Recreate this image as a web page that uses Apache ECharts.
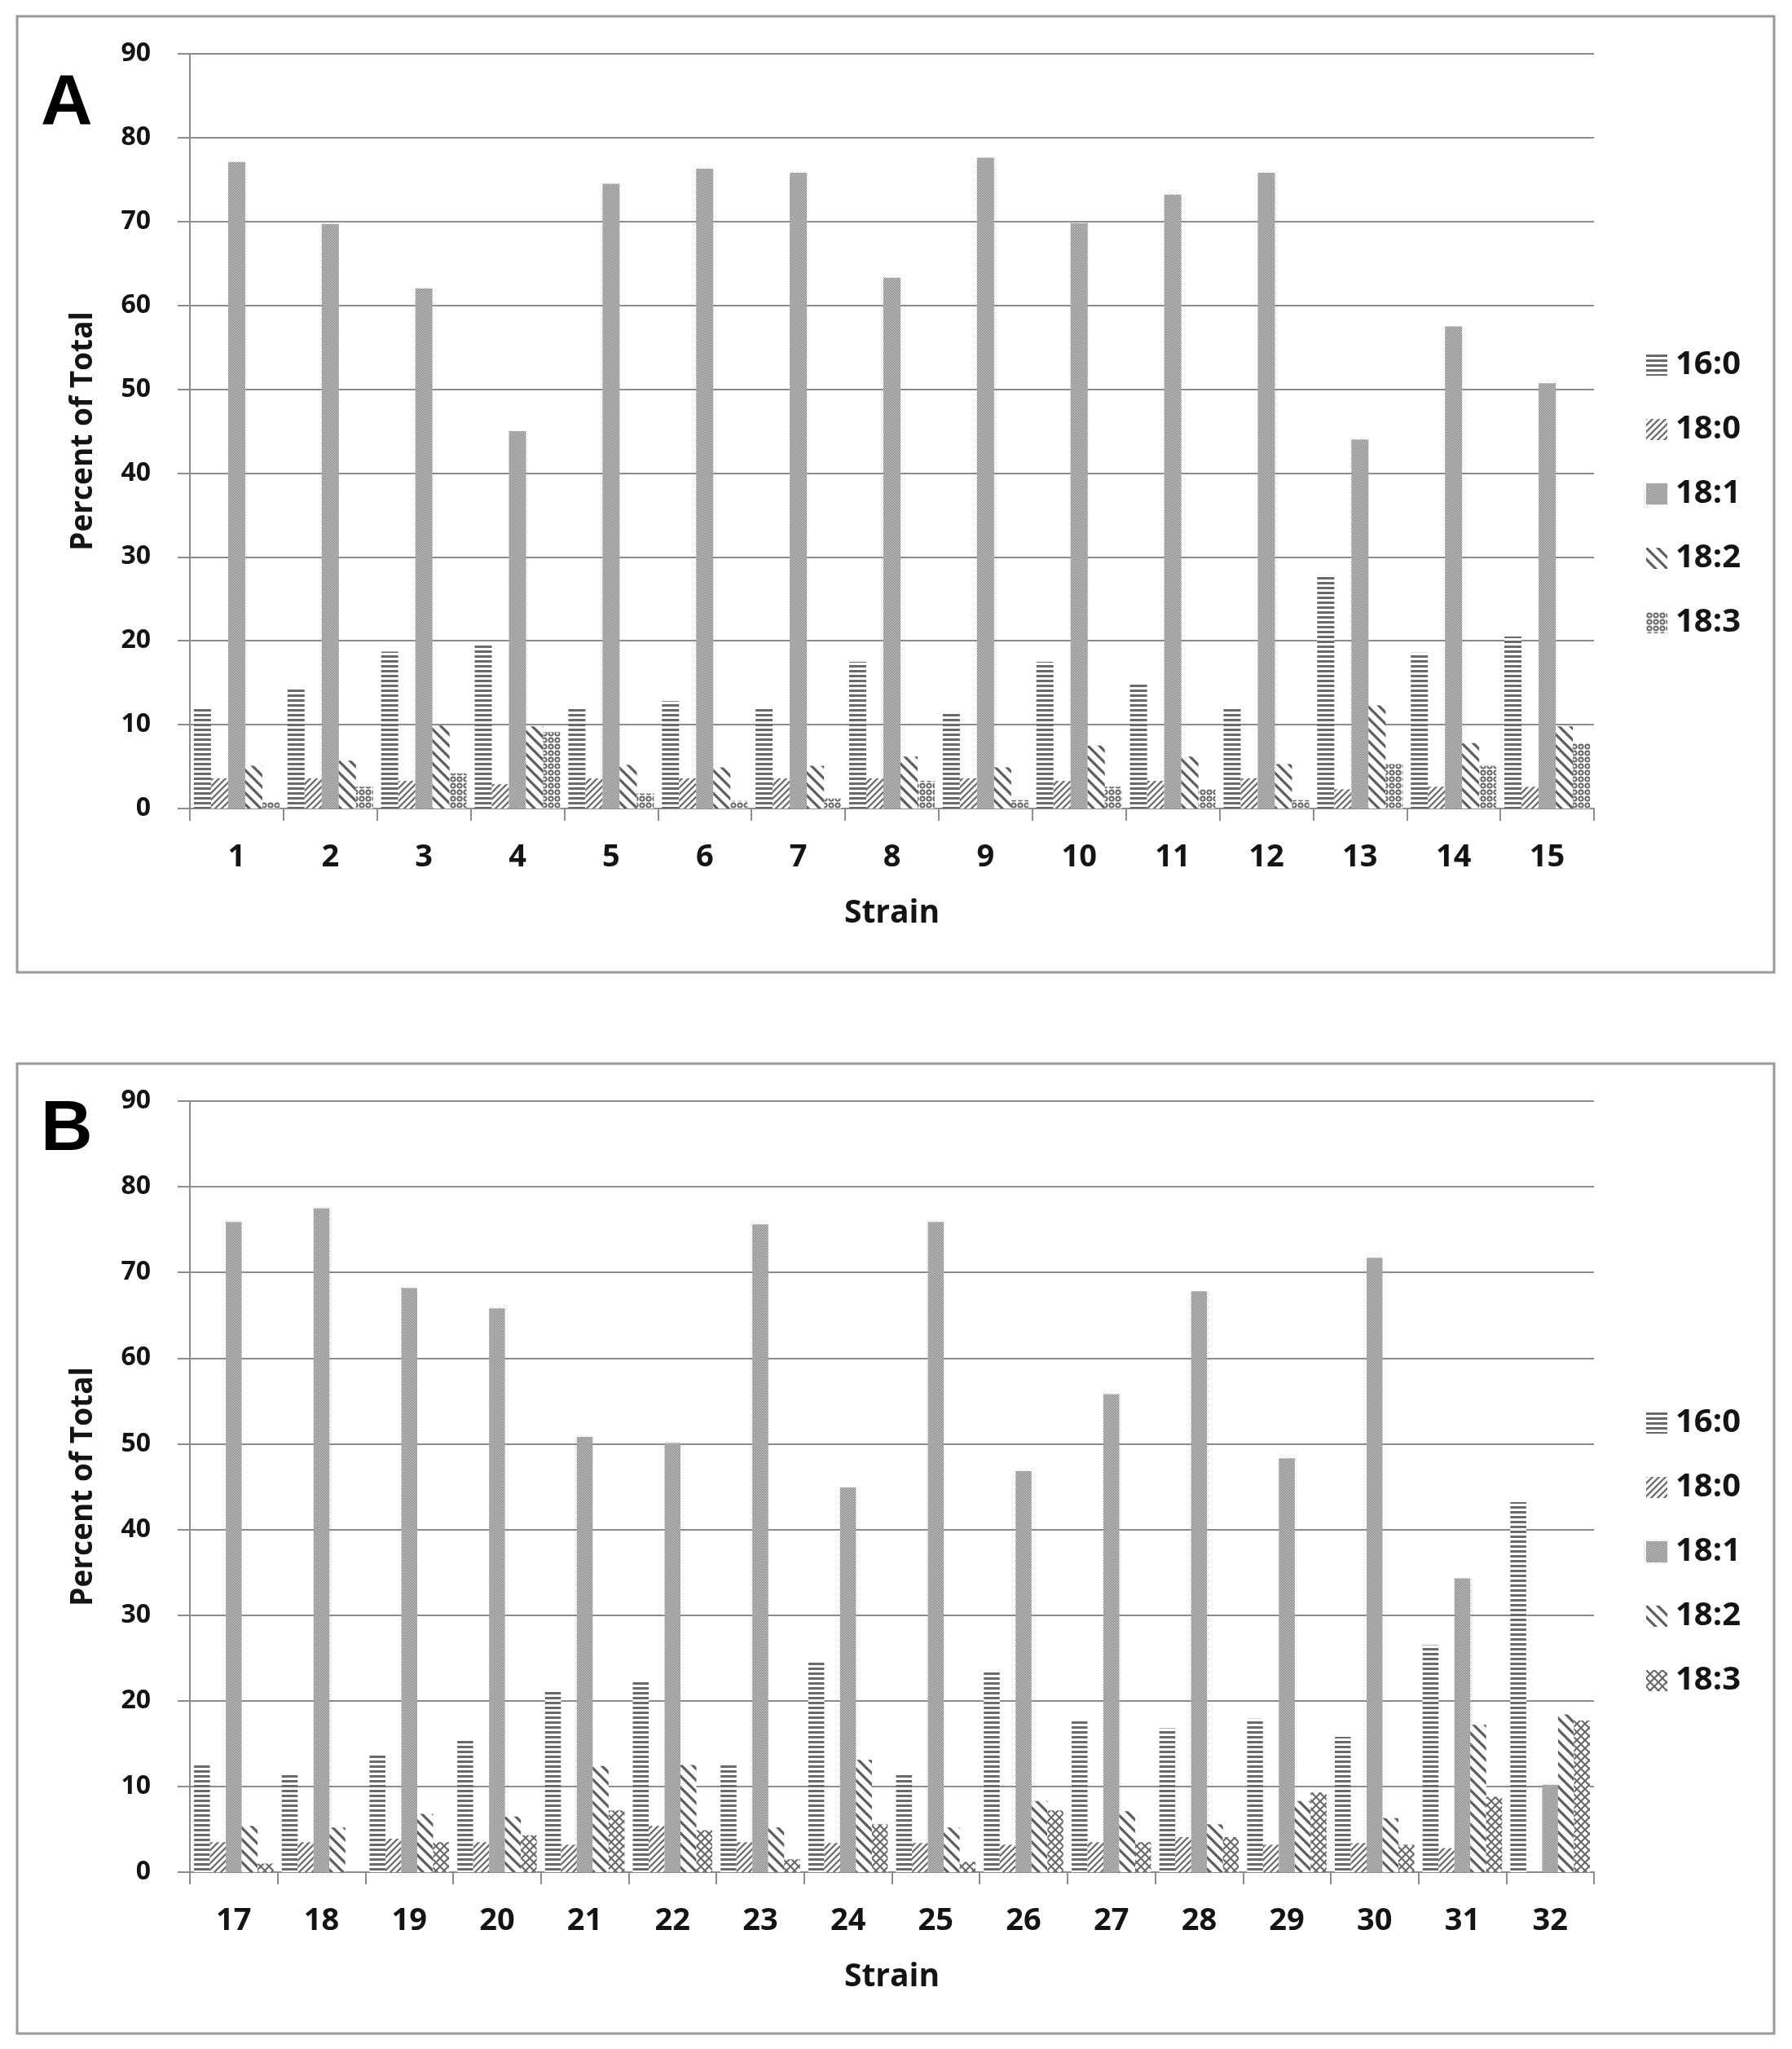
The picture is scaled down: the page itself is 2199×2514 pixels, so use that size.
<!DOCTYPE html>
<html>
<head>
<meta charset="utf-8">
<script src="https://cdn.jsdelivr.net/npm/echarts@6/dist/echarts.min.js"></script>
<style>
html,body{margin:0;padding:0;background:#fff;}
#chart{width:2199px;height:2514px;}
</style>
</head>
<body>
<div id="chart"></div>
<script>
// ---------- data ----------
const seriesNames = ['16:0', '18:0', '18:1', '18:2', '18:3'];
const strainsA = ['1','2','3','4','5','6','7','8','9','10','11','12','13','14','15'];
const strainsB = ['17','18','19','20','21','22','23','24','25','26','27','28','29','30','31','32'];
const yTicks = [0, 90, 10]; // min, max, interval

const a160 = [11.9, 14.2, 18.7, 19.6, 11.9, 12.8, 11.9, 17.5, 11.5, 17.5, 15.0, 11.9, 27.7, 18.6, 20.5];
const a180 = [3.6, 3.6, 3.3, 2.9, 3.6, 3.6, 3.6, 3.6, 3.6, 3.3, 3.3, 3.6, 2.3, 2.6, 2.6];
const a181 = [77.1, 69.7, 62.0, 45.0, 74.5, 76.3, 75.8, 63.3, 77.6, 69.8, 73.2, 75.8, 44.0, 57.5, 50.7];
const a182 = [5.1, 5.7, 9.9, 9.8, 5.2, 4.9, 5.1, 6.2, 4.9, 7.5, 6.2, 5.3, 12.3, 7.8, 9.8];
const a183 = [0.8, 2.6, 4.2, 9.1, 1.8, 0.9, 1.2, 3.3, 1.0, 2.6, 2.3, 1.0, 5.3, 5.1, 7.8];

const b160 = [12.5, 11.4, 13.6, 15.5, 21.2, 22.3, 12.5, 24.5, 11.4, 23.3, 17.7, 16.8, 17.9, 15.8, 26.5, 43.2];
const b180 = [3.5, 3.5, 3.9, 3.5, 3.2, 5.4, 3.5, 3.4, 3.4, 3.2, 3.5, 4.1, 3.2, 3.4, 2.8, 0];
const b181 = [75.9, 77.5, 68.2, 65.8, 50.8, 50.1, 75.6, 44.9, 75.9, 46.8, 55.8, 67.8, 48.3, 71.7, 34.3, 10.2];
const b182 = [5.4, 5.2, 6.8, 6.5, 12.4, 12.5, 5.2, 13.1, 5.2, 8.3, 7.1, 5.6, 8.3, 6.3, 17.2, 18.4];
const b183 = [1.0, 0, 3.5, 4.3, 7.2, 4.9, 1.5, 5.6, 1.2, 7.2, 3.5, 4.1, 9.3, 3.2, 8.8, 17.7];

// ---------- patterns ----------
function makePattern(w, h, draw) {
  const c = document.createElement('canvas');
  c.width = w; c.height = h;
  const ctx = c.getContext('2d');
  ctx.fillStyle = '#ffffff';
  ctx.fillRect(0, 0, w, h);
  draw(ctx, w, h);
  return { image: c, repeat: 'repeat' };
}
const pHoriz = makePattern(6, 6, (ctx) => {
  ctx.fillStyle = '#6a6a6a';
  ctx.fillRect(0, 0, 6, 3);
});
const pUp = makePattern(8, 8, (ctx) => {
  ctx.strokeStyle = '#707070'; ctx.lineWidth = 2.3;
  ctx.beginPath();
  for (const k of [-8, 0, 8]) { ctx.moveTo(k - 1, 9); ctx.lineTo(k + 9, -1); }
  ctx.stroke();
});
const pCheck = makePattern(2, 2, (ctx) => {
  ctx.fillStyle = '#dadada'; ctx.fillRect(0, 0, 2, 2);
  ctx.fillStyle = '#727272';
  ctx.fillRect(0, 0, 1, 1); ctx.fillRect(1, 1, 1, 1);
});
const pDown = makePattern(14, 14, (ctx) => {
  ctx.strokeStyle = '#5e5e5e'; ctx.lineWidth = 3.2;
  ctx.beginPath();
  for (const k of [-14, 0, 14]) { ctx.moveTo(k - 1, -1); ctx.lineTo(k + 15, 15); }
  ctx.stroke();
});
const pCircle = makePattern(8, 8, (ctx) => {
  ctx.strokeStyle = '#6a6a6a'; ctx.lineWidth = 2;
  ctx.beginPath(); ctx.arc(4, 4, 2.6, 0, Math.PI * 2); ctx.stroke();
});
const pCross = makePattern(10, 10, (ctx) => {
  ctx.strokeStyle = '#666666'; ctx.lineWidth = 2;
  ctx.beginPath();
  ctx.moveTo(0, 0); ctx.lineTo(10, 10);
  ctx.moveTo(10, 0); ctx.lineTo(0, 10);
  ctx.stroke();
});
const patternsA = [pHoriz, pUp, pCheck, pDown, pCircle];
const patternsB = [pHoriz, pUp, pCheck, pDown, pCross];

// ---------- styling ----------
const FONT = 'Open Sans';
const GRAY = '#8c8c8c';
const TXT = '#141414';

function yAxisCfg(gridIndex) {
  return {
    type: 'value', gridIndex: gridIndex,
    min: yTicks[0], max: yTicks[1], interval: yTicks[2],
    name: 'Percent of Total', nameLocation: 'middle', nameRotate: 90, nameGap: 112,
    nameTextStyle: { fontFamily: FONT, fontWeight: 'bold', fontSize: 37, color: TXT },
    axisLine: { show: true, lineStyle: { color: GRAY, width: 2 } },
    axisTick: { show: true, length: 15, inside: false, lineStyle: { color: GRAY, width: 2 } },
    splitLine: { show: true, lineStyle: { color: GRAY, width: 2 } },
    axisLabel: { fontFamily: FONT, fontWeight: 'bold', fontSize: 32, color: TXT, margin: 48 }
  };
}
function xAxisCfg(gridIndex, cats) {
  return {
    type: 'category', gridIndex: gridIndex, data: cats,
    name: 'Strain', nameLocation: 'middle', nameGap: 109,
    nameTextStyle: { fontFamily: FONT, fontWeight: 'bold', fontSize: 39, color: TXT },
    axisLine: { show: true, lineStyle: { color: GRAY, width: 2 } },
    axisTick: { show: true, interval: 0, length: 15, lineStyle: { color: GRAY, width: 2 } },
    axisLabel: { interval: 0, fontFamily: FONT, fontWeight: 'bold', fontSize: 38, color: TXT, margin: 41 }
  };
}
function legendCfg(top, patterns) {
  return {
    orient: 'vertical', left: 2015, top: top,
    icon: 'rect', itemWidth: 26, itemHeight: 26, itemGap: 39,
    selectedMode: false,
    textStyle: { fontFamily: FONT, fontWeight: 'bold', fontSize: 40, color: TXT, lineHeight: 40, padding: [0, 0, 0, 5] },
    data: seriesNames.map((n, i) => ({ name: n, itemStyle: { color: patterns[i] } }))
  };
}

const dataA = [a160, a180, a181, a182, a183];
const dataB = [b160, b180, b181, b182, b183];
const series = [];
seriesNames.forEach((n, i) => {
  series.push({
    name: n, type: 'bar', xAxisIndex: 0, yAxisIndex: 0, data: dataA[i],
    barWidth: 21, barGap: '0%', itemStyle: { color: patternsA[i] }
  });
});
seriesNames.forEach((n, i) => {
  series.push({
    name: n, type: 'bar', xAxisIndex: 1, yAxisIndex: 1, data: dataB[i],
    barWidth: 19.5, barGap: '0%', itemStyle: { color: patternsB[i] }
  });
});

const chart = echarts.init(document.getElementById('chart'), null, { renderer: 'canvas' });
chart.setOption({
  backgroundColor: '#ffffff',
  animation: false,
  grid: [
    { left: 233, width: 1723, top: 66, height: 926 },
    { left: 233, width: 1723, top: 1351, height: 946 }
  ],
  xAxis: [xAxisCfg(0, strainsA), xAxisCfg(1, strainsB)],
  yAxis: [yAxisCfg(0), yAxisCfg(1)],
  legend: [legendCfg(423, patternsA), legendCfg(1721, patternsB)],
  graphic: [
    { type: 'rect', shape: { x: 21, y: 20, width: 2156, height: 1173 }, style: { fill: 'none', stroke: '#9a9a9a', lineWidth: 3 }, z: -1 },
    { type: 'rect', shape: { x: 21, y: 1305, width: 2156, height: 1190 }, style: { fill: 'none', stroke: '#9a9a9a', lineWidth: 3 }, z: -1 },
    { type: 'text', left: 50, top: 84, style: { text: 'A', font: 'bold 88px "Liberation Sans"', fill: '#000' } },
    { type: 'text', left: 50, top: 1343, style: { text: 'B', font: 'bold 88px "Liberation Sans"', fill: '#000' } }
  ],
  series: series
});
</script>
</body>
</html>
